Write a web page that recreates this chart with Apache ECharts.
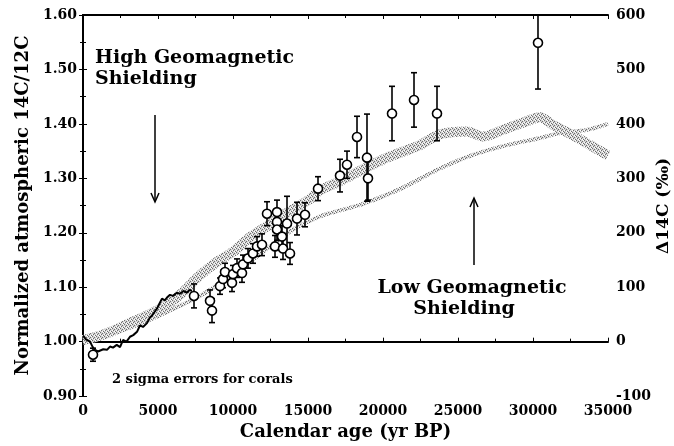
<!DOCTYPE html>
<html>
<head>
<meta charset="utf-8">
<script src="https://cdn.jsdelivr.net/npm/echarts@6/dist/echarts.min.js"></script>
<style>
  html, body { margin: 0; padding: 0; background: #fff; }
  #chart { width: 674px; height: 446px; }
</style>
</head>
<body>
<div id="chart"></div>
<script>
// tick labels
var leftTickLabels = ['0.90', '1.00', '1.10', '1.20', '1.30', '1.40', '1.50', '1.60'];
var rightTickLabels = ['-100', '0', '100', '200', '300', '400', '500', '600'];
var xTickLabels = ['0', '5000', '10000', '15000', '20000', '25000', '30000', '35000'];

// upper (wide, hatched) model band  [age, ratio]
var upperBand = [
  [0, 1.003], [1000, 1.010], [2000, 1.020], [3000, 1.033], [4267, 1.048], [5500, 1.066],
  [6467, 1.086], [7800, 1.122], [9000, 1.148], [10000, 1.165], [11130, 1.192], [12267, 1.212],
  [13500, 1.235], [15133, 1.262], [15800, 1.278], [17000, 1.293], [18000, 1.307], [20267, 1.338],
  [22467, 1.361], [23800, 1.381], [25600, 1.386], [26667, 1.377], [28267, 1.392], [29500, 1.404],
  [30467, 1.412], [31333, 1.398], [32667, 1.379], [35000, 1.342]
];

// lower (thin, hatched) model line
var lowerLine = [
  [0, 0.998], [2000, 1.015], [4000, 1.035], [6000, 1.060], [7800, 1.084], [9000, 1.105],
  [10467, 1.133], [12000, 1.165], [14000, 1.206], [15800, 1.230], [16467, 1.236], [18667, 1.253],
  [21333, 1.283], [23800, 1.318], [26000, 1.343], [28267, 1.361], [30467, 1.374], [31800, 1.383],
  [33600, 1.389], [35000, 1.400]
];

// tree-ring record (black jagged line)
var treeRing = [
  [0, 1.011], [200, 1.004], [467, 1.000], [650, 0.990], [800, 0.985], [1000, 0.982], [1133, 0.980],
  [1350, 0.986], [1600, 0.985], [1800, 0.991], [2000, 0.989], [2250, 0.994], [2467, 0.990],
  [2667, 1.003], [2900, 1.000], [3133, 1.009], [3350, 1.012], [3600, 1.018], [3800, 1.030],
  [4000, 1.027], [4267, 1.034], [4450, 1.044], [4600, 1.048], [4780, 1.055], [4933, 1.061],
  [5100, 1.070], [5267, 1.079], [5450, 1.076], [5600, 1.081], [5800, 1.086], [6000, 1.084],
  [6250, 1.090], [6467, 1.088], [6700, 1.093], [6933, 1.090], [7100, 1.095], [7267, 1.093]
];

// coral data  [age, ratio, 2-sigma error]
var corals = [
  [667, 0.976, 0.012], [7400, 1.084, 0.022], [8467, 1.075, 0.02], [8600, 1.057, 0.022],
  [9133, 1.102, 0.015], [9333, 1.115, 0.016], [9467, 1.128, 0.016], [9933, 1.108, 0.016],
  [10000, 1.124, 0.016], [10267, 1.135, 0.017], [10600, 1.126, 0.017], [10667, 1.142, 0.017],
  [11000, 1.153, 0.018], [11333, 1.162, 0.018], [11600, 1.175, 0.018], [11933, 1.178, 0.02],
  [12267, 1.235, 0.022], [12933, 1.238, 0.022], [12933, 1.220, 0.02], [13600, 1.217, 0.05],
  [14267, 1.226, 0.03], [14800, 1.233, 0.022], [12933, 1.206, 0.02], [13267, 1.193, 0.02],
  [12800, 1.175, 0.02], [13333, 1.171, 0.02], [13800, 1.162, 0.02], [15667, 1.281, 0.022],
  [17133, 1.305, 0.03], [17600, 1.325, 0.025], [18267, 1.376, 0.038], [18933, 1.338, 0.08],
  [19000, 1.300, 0.04], [20600, 1.419, 0.05], [22067, 1.444, 0.05], [23600, 1.419, 0.05],
  [30333, 1.549, 0.085]
];

function hatch() {
  var c = document.createElement('canvas');
  c.width = 4; c.height = 4;
  var g = c.getContext('2d');
  g.fillStyle = '#d4d4d4';
  g.fillRect(0, 0, 4, 4);
  g.fillStyle = '#6e6e6e';
  g.fillRect(0, 0, 1, 1); g.fillRect(2, 1, 1, 1); g.fillRect(1, 2, 1, 1); g.fillRect(3, 3, 1, 1);
  g.fillStyle = '#ffffff';
  g.fillRect(2, 3, 1, 1); g.fillRect(0, 2, 1, 1); g.fillRect(3, 0, 1, 1);
  return { image: c, repeat: 'repeat' };
}

var serif = '"DejaVu Serif", "Liberation Serif", serif';
var chart = echarts.init(document.getElementById('chart'));

var option = {
  backgroundColor: '#fff',
  animation: false,
  grid: { left: 83, right: 66, top: 15, bottom: 44 },
  xAxis: [
    {
      type: 'value', min: 0, max: 35000, interval: 5000, position: 'bottom',
      name: 'Calendar age (yr BP)', nameLocation: 'middle', nameGap: 26,
      nameTextStyle: { fontFamily: serif, fontWeight: 'bold', fontSize: 18, color: '#000' },
      axisLine: { show: true, lineStyle: { color: '#000', width: 2 } },
      axisTick: { inside: true, length: 4, lineStyle: { color: '#000' } },
      minorTick: { show: true, splitNumber: 2, length: 3, lineStyle: { color: '#000' } },
      axisLabel: {
        margin: 8, color: '#000', fontFamily: serif, fontWeight: 'bold', fontSize: 14,
        formatter: function (v) { return xTickLabels[Math.round(v / 5000)]; }
      },
      splitLine: { show: false }
    },
    {
      type: 'value', min: 0, max: 35000, interval: 5000, position: 'top',
      axisLine: { show: true, lineStyle: { color: '#000', width: 2 } },
      axisTick: { inside: true, length: 4, lineStyle: { color: '#000' } },
      minorTick: { show: true, splitNumber: 2, length: 3, lineStyle: { color: '#000' } },
      axisLabel: { show: false },
      splitLine: { show: false }
    }
  ],
  yAxis: [
    {
      type: 'value', min: 0.9, max: 1.6, interval: 0.1, position: 'left',
      name: 'Normalized atmospheric 14C/12C', nameLocation: 'middle', nameGap: 50,
      nameTextStyle: { fontFamily: serif, fontWeight: 'bold', fontSize: 18, color: '#000' },
      axisLine: { show: true, lineStyle: { color: '#000', width: 2 } },
      axisTick: { length: 4, lineStyle: { color: '#000' } },
      minorTick: { show: true, splitNumber: 2, length: 3, lineStyle: { color: '#000' } },
      axisLabel: {
        margin: 6, color: '#000', fontFamily: serif, fontWeight: 'bold', fontSize: 14,
        formatter: function (v) { return leftTickLabels[Math.round((v - 0.9) / 0.1)]; }
      },
      splitLine: { show: false }
    },
    {
      type: 'value', min: -100, max: 600, interval: 100, position: 'right',
      axisLine: { show: true, lineStyle: { color: '#000', width: 2 } },
      axisTick: { length: 4, lineStyle: { color: '#000' } },
      minorTick: { show: true, splitNumber: 2, length: 3, lineStyle: { color: '#000' } },
      axisLabel: {
        margin: 8, color: '#000', fontFamily: serif, fontWeight: 'bold', fontSize: 14,
        formatter: function (v) { return rightTickLabels[Math.round((v + 100) / 100)]; }
      },
      splitLine: { show: false }
    }
  ],
  series: [
    {
      type: 'line', data: upperBand, xAxisIndex: 0, yAxisIndex: 0, smooth: 0.3,
      showSymbol: false, symbol: 'none',
      lineStyle: { width: 10, color: hatch() }, z: 1
    },
    {
      type: 'line', data: lowerLine, xAxisIndex: 0, yAxisIndex: 0, smooth: 0.3,
      showSymbol: false, symbol: 'none',
      lineStyle: { width: 4, color: hatch() }, z: 1
    },
    {
      type: 'line', data: treeRing, xAxisIndex: 0, yAxisIndex: 0,
      showSymbol: false, symbol: 'none',
      lineStyle: { width: 2, color: '#000' }, z: 2
    },
    {
      type: 'custom', data: corals, xAxisIndex: 0, yAxisIndex: 0, clip: true, z: 3,
      renderItem: function (params, api) {
        var x = api.value(0), y = api.value(1), e = api.value(2);
        var top = api.coord([x, y + e]);
        var bot = api.coord([x, y - e]);
        var st = { stroke: '#000', lineWidth: 1.6 };
        return {
          type: 'group',
          children: [
            { type: 'line', shape: { x1: top[0], y1: top[1], x2: bot[0], y2: bot[1] }, style: st },
            { type: 'line', shape: { x1: top[0] - 3, y1: top[1], x2: top[0] + 3, y2: top[1] }, style: st },
            { type: 'line', shape: { x1: bot[0] - 3, y1: bot[1], x2: bot[0] + 3, y2: bot[1] }, style: st }
          ]
        };
      }
    },
    {
      type: 'scatter', data: corals.map(function (d) { return [d[0], d[1]]; }),
      xAxisIndex: 0, yAxisIndex: 0, symbol: 'circle', symbolSize: 9, z: 4,
      itemStyle: { color: '#fff', borderColor: '#000', borderWidth: 1.6, opacity: 1 }
    }
  ],
  graphic: [
    { type: 'text', left: 95, top: 49, style: { text: 'High Geomagnetic', font: 'bold 19px ' + serif, fill: '#000' } },
    { type: 'text', left: 95, top: 70, style: { text: 'Shielding', font: 'bold 19px ' + serif, fill: '#000' } },
    { type: 'text', x: 472, y: 288, style: { text: 'Low Geomagnetic', font: 'bold 19px ' + serif, fill: '#000', textAlign: 'center', textVerticalAlign: 'middle' } },
    { type: 'text', x: 464, y: 309, style: { text: 'Shielding', font: 'bold 19px ' + serif, fill: '#000', textAlign: 'center', textVerticalAlign: 'middle' } },
    { type: 'text', x: 112, y: 380, style: { text: '2 sigma errors for corals', font: 'bold 13px ' + serif, fill: '#000', textVerticalAlign: 'middle' } },
    { type: 'text', x: 664, y: 206, rotation: Math.PI / 2, style: { text: 'Δ14C (‰)', font: 'bold 17px ' + serif, fill: '#000', textAlign: 'center', textVerticalAlign: 'middle' } },
    { type: 'line', shape: { x1: 155, y1: 115, x2: 155, y2: 201 }, style: { stroke: '#000', lineWidth: 1.5 } },
    { type: 'polyline', shape: { points: [[151, 193], [155, 202], [159, 193]] }, style: { stroke: '#000', lineWidth: 1.5, fill: null } },
    { type: 'line', shape: { x1: 474, y1: 199, x2: 474, y2: 265 }, style: { stroke: '#000', lineWidth: 1.5 } },
    { type: 'polyline', shape: { points: [[470, 207], [474, 198], [478, 207]] }, style: { stroke: '#000', lineWidth: 1.5, fill: null } }
  ]
};

chart.setOption(option);
</script>
</body>
</html>
